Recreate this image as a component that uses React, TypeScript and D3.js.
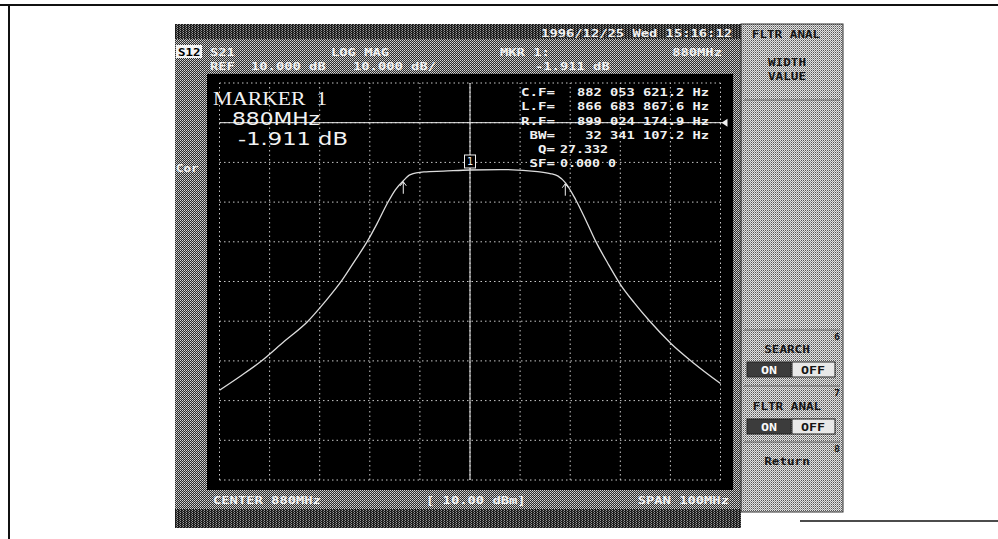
import React from 'react';
import * as d3 from 'd3';

// Trace: frequency (MHz) vs transmission (dB)
const freqMHz = [
  830, 834, 838.1, 843, 847.5, 851, 854.5, 857, 859.5, 861.5, 863.5, 865.1, 866.7, 868.1,
  870.8, 874.7, 880, 886, 893.5, 896, 897.5, 899.1, 901.1, 903.1, 905.1, 907.5, 910.1,
  912.8, 915.8, 920.1, 924.8, 930,
];
const gainDb = [
  -57.4, -54.0, -50.3, -45.0, -40.2, -35.2, -29.6, -24.8, -19.9, -15.3, -10.3, -6.9, -4.6, -3.1,
  -2.4, -2.2, -1.911, -1.8, -2.3, -2.8, -3.4, -5.2, -9.4, -14.5, -19.9, -25.4, -30.9,
  -35.4, -39.9, -45.6, -50.7, -55.7,
];

const freqDomain = [830, 930];
const dbDomain = [-80, 20];
const refLevelDb = 10;
const markerFreq = 880;
const markerDb = -1.911;
const edgeFreqs = [866.683, 899.024];

const headerRow1 = '1996/12/25 Wed 15:16:12';
const readoutLabels = ['C.F=', 'L.F=', 'R.F=', 'BW=', 'Q=', 'SF='];
const readoutValues = ['882 053 621.2 Hz', '866 683 867.6 Hz', '899 024 174.9 Hz', '32 341 107.2 Hz', '27.332', '0.000 0'];
const menuItems = ['FLTR ANAL', 'WIDTH', 'VALUE', 'SEARCH', 'FLTR ANAL', 'Return'];

const W = 998;
const H = 539;
const mono = "'DejaVu Sans Mono', monospace";

const Mono: React.FC<{ x: number; y: number; t: string; anchor?: string; fill?: string; cw?: number; size?: number }> = ({
  x, y, t, anchor = 'start', fill = '#f2f2f2', cw = 8.3, size = 11,
}) => (
  <text
    x={x}
    y={y}
    textAnchor={anchor as any}
    fill={fill}
    fontFamily={mono}
    fontWeight="bold"
    fontSize={size}
    textLength={t.length * cw}
    lengthAdjust="spacingAndGlyphs"
    xmlSpace="preserve"
  >
    {t}
  </text>
);

export default function App() {
  const x = d3.scaleLinear().domain(freqDomain).range([219.5, 720.5]);
  const y = d3.scaleLinear().domain(dbDomain).range([480, 83]);

  const pts = freqMHz.map((f, i) => ({ f, v: gainDb[i] }));
  const line = d3
    .line<{ f: number; v: number }>()
    .x((d) => x(d.f))
    .y((d) => y(d.v))
    .curve(d3.curveMonotoneX);

  const interp = (f: number) => {
    const i = d3.bisectLeft(freqMHz, f);
    const f0 = freqMHz[i - 1], f1 = freqMHz[i];
    const t = (f - f0) / (f1 - f0);
    return gainDb[i - 1] + t * (gainDb[i] - gainDb[i - 1]);
  };

  const xTicks = x.ticks(10);
  const yTicks = y.ticks(10);
  const mx = x(markerFreq);
  const my = y(markerDb);
  const ry = y(refLevelDb);

  return (
    <svg width={W} height={H} style={{ position: 'absolute', left: 0, top: 0, background: '#fff' }}>
      <defs>
        <pattern id="dMid" width="2" height="2" patternUnits="userSpaceOnUse">
          <rect width="2" height="2" fill="#2c2c2c" />
          <rect x="0" y="0" width="1" height="1" fill="#d8d8d8" />
          <rect x="1" y="1" width="1" height="1" fill="#b0b0b0" />
        </pattern>
        <pattern id="dLight" width="2" height="2" patternUnits="userSpaceOnUse">
          <rect width="2" height="2" fill="#e4e4e4" />
          <rect x="1" y="0" width="1" height="1" fill="#555" />
          <rect x="0" y="1" width="1" height="1" fill="#9a9a9a" />
        </pattern>
        <pattern id="dDark" width="3" height="2" patternUnits="userSpaceOnUse">
          <rect width="3" height="2" fill="#1c1c1c" />
          <rect x="0" y="0" width="1" height="1" fill="#9a9a9a" />
          <rect x="2" y="1" width="1" height="1" fill="#707070" />
        </pattern>
      </defs>

      {/* page frame */}
      <line x1={0} x2={W} y1={5} y2={5} stroke="#111" strokeWidth={2} />
      <line x1={9} x2={9} y1={5} y2={H} stroke="#111" strokeWidth={2} />
      <line x1={800} x2={W} y1={521} y2={521} stroke="#111" strokeWidth={1.5} />

      {/* instrument screen */}
      <rect x={175} y={24} width={566} height={504} fill="url(#dMid)" />
      <rect x={175} y={24} width={566} height={15} fill="url(#dDark)" />
      <rect x={175} y={509} width={566} height={19} fill="url(#dDark)" />
      <rect x={207} y={74} width={526} height={416} fill="#000" />

      {/* header */}
      <Mono x={732} y={37} t={headerRow1} anchor="end" />
      <rect x={176} y={45} width={26} height={13} fill="#f4f4f4" />
      <Mono x={178} y={56} t="S12" fill="#000" cw={7.5} />
      <Mono x={210} y={56} t="S21" />
      <Mono x={331} y={56} t="LOG MAG" />
      <Mono x={500} y={56} t="MKR 1:" />
      <Mono x={722} y={56} t="880MHz" anchor="end" />
      <Mono x={210} y={70} t="REF" />
      <Mono x={251} y={70} t="10.000 dB" />
      <Mono x={353} y={70} t="10.000 dB/" />
      <Mono x={535} y={70} t="-1.911 dB" />
      <Mono x={176} y={172} t="Cor" cw={7.5} />

      {/* footer */}
      <Mono x={213} y={504} t="CENTER 880MHz" />
      <Mono x={426} y={504} t="[ 10.00 dBm]" />
      <Mono x={729} y={504} t="SPAN 100MHz" anchor="end" />

      {/* grid */}
      <g stroke="#c8c8c8" strokeWidth={1} strokeDasharray="1.5 3">
        {xTicks.map((t) => (
          <line key={'v' + t} x1={x(t)} x2={x(t)} y1={y(dbDomain[0])} y2={y(dbDomain[1])} />
        ))}
        {yTicks.map((t) => (
          <line key={'h' + t} x1={x(freqDomain[0])} x2={x(freqDomain[1])} y1={y(t)} y2={y(t)} />
        ))}
      </g>

      {/* reference line and marker line */}
      <line x1={x(freqDomain[0])} x2={x(freqDomain[1]) + 2} y1={ry} y2={ry} stroke="#f0f0f0" strokeWidth={1} />
      <path d={`M${x(freqDomain[1]) + 1},${ry} l6,-4 v8 z`} fill="#f0f0f0" />
      <line x1={mx} x2={mx} y1={y(dbDomain[1])} y2={y(dbDomain[0])} stroke="#f0f0f0" strokeWidth={1} />

      {/* trace */}
      <path d={line(pts) ?? ''} fill="none" stroke="#dcdcdc" strokeWidth={1.3} />

      {/* marker symbol */}
      <rect x={mx - 5.5} y={my - 15} width={11} height={13} fill="#000" stroke="#f0f0f0" strokeWidth={1} />
      <text x={mx} y={my - 4.5} textAnchor="middle" fill="#f0f0f0" fontFamily={mono} fontSize={10}>1</text>

      {/* -3 dB edge markers */}
      {edgeFreqs.map((f) => {
        const ex = x(f);
        const ey = y(interp(f));
        return (
          <g key={f} stroke="#f0f0f0" strokeWidth={1} fill="none">
            <line x1={ex} x2={ex} y1={ey + 1} y2={ey + 13} />
            <path d={`M${ex - 3},${ey + 5} L${ex},${ey + 1} L${ex + 3},${ey + 5}`} />
          </g>
        );
      })}

      {/* marker readout */}
      <text x={213} y={105} fill="#f2f2f2" fontFamily="'Liberation Serif', serif" fontSize={18} textLength={114} lengthAdjust="spacingAndGlyphs" xmlSpace="preserve">
        MARKER  1
      </text>
      <text x={232} y={125} fill="#f2f2f2" fontFamily="'DejaVu Sans', sans-serif" fontSize={17} textLength={88} lengthAdjust="spacingAndGlyphs">
        880MHz
      </text>
      <text x={238} y={145} fill="#f2f2f2" fontFamily="'DejaVu Sans', sans-serif" fontSize={17} textLength={110} lengthAdjust="spacingAndGlyphs" xmlSpace="preserve">
        -1.911 dB
      </text>

      {readoutLabels.map((lab, i) => {
        const yy = [96, 110, 125, 139, 153, 167][i];
        return (
          <g key={lab}>
            <Mono x={555} y={yy} t={lab} anchor="end" cw={8.5} />
            {i < 4 ? (
              <Mono x={709} y={yy} t={readoutValues[i]} anchor="end" cw={8.25} />
            ) : (
              <Mono x={560} y={yy} t={readoutValues[i]} cw={8} />
            )}
          </g>
        );
      })}

      {/* soft-key panel */}
      <rect x={741} y={24} width={102} height={488} fill="url(#dLight)" />
      <rect x={741} y={24} width={102} height={488} fill="none" stroke="#333" strokeWidth={1} />
      <g stroke="#666" strokeWidth={1}>
        <line x1={744} x2={840} y1={100} y2={100} />
        <line x1={744} x2={840} y1={330} y2={330} />
        <line x1={744} x2={840} y1={386} y2={386} />
        <line x1={744} x2={840} y1={442} y2={442} />
      </g>
      <Mono x={786} y={38} t={menuItems[0]} anchor="middle" fill="#151515" cw={7.6} size={11} />
      <Mono x={787} y={66} t={menuItems[1]} anchor="middle" fill="#151515" cw={7.6} size={11} />
      <Mono x={787} y={80} t={menuItems[2]} anchor="middle" fill="#151515" cw={7.6} size={11} />
      <Mono x={787} y={353} t={menuItems[3]} anchor="middle" fill="#151515" cw={7.6} size={11} />
      <Mono x={787} y={410} t={menuItems[4]} anchor="middle" fill="#151515" cw={7.6} size={11} />
      <Mono x={787} y={465} t={menuItems[5]} anchor="middle" fill="#151515" cw={7.6} size={11} />
      <Mono x={834} y={340} t="6" fill="#151515" cw={6} size={9} />
      <Mono x={834} y={396} t="7" fill="#151515" cw={6} size={9} />
      <Mono x={834} y={452} t="8" fill="#151515" cw={6} size={9} />

      {[362, 419].map((by) => (
        <g key={by}>
          <rect x={747} y={by} width={44} height={15} fill="#3c3c3c" stroke="#222" />
          <rect x={792} y={by} width={43} height={15} fill="#e8e8e8" stroke="#222" />
          <Mono x={769} y={by + 12} t="ON" anchor="middle" fill="#fafafa" cw={8} />
          <Mono x={813} y={by + 12} t="OFF" anchor="middle" fill="#151515" cw={8} />
        </g>
      ))}
    </svg>
  );
}
